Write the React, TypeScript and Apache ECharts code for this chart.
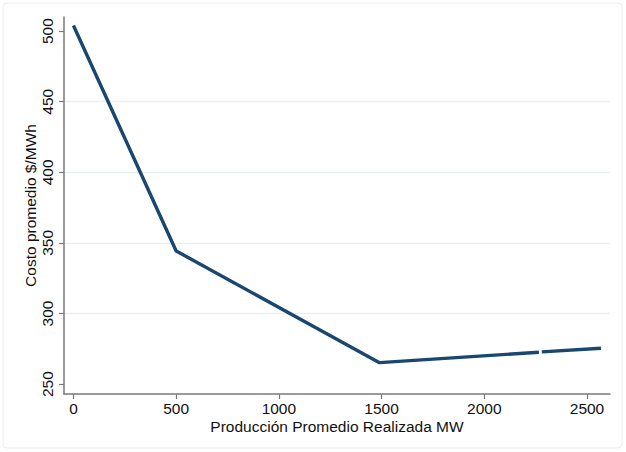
import React, { useEffect, useRef } from "react";
import * as echarts from "echarts";

const produccion: number[] = [0, 500, 1490, 2266, 2273, 2280, 2568];
const costo: (number | string)[] = [504, 344.3, 265.2, 272.6, "-", 272.8, 275.4];
const xTicks = [0, 500, 1000, 1500, 2000, 2500];
const yTicks = [250, 300, 350, 400, 450, 500];

export default function App() {
  const ref = useRef<HTMLDivElement>(null);
  useEffect(() => {
    if (!ref.current) return;
    const chart = echarts.init(ref.current, null, { renderer: "svg" });
    const font = "'Liberation Sans', Arial, Helvetica, sans-serif";
    const data = produccion.map((x, i) => [x, costo[i]]);
    chart.setOption({
      animation: false,
      backgroundColor: "#ffffff",
      textStyle: { fontFamily: font },
      graphic: [
        {
          type: "rect",
          shape: { x: 3, y: 3, width: 619, height: 445, r: 4 },
          style: { fill: "none", stroke: "#ededed", lineWidth: 1 },
          silent: true,
          z: -1,
        },
      ],
      grid: { left: 64, right: 16, top: 17, bottom: 58, containLabel: false },
      xAxis: {
        type: "value",
        min: -46,
        max: 2612,
        name: "Producción Promedio Realizada MW",
        nameLocation: "middle",
        nameGap: 24,
        nameMoveOverlap: false,
        nameTextStyle: { fontSize: 15.5, color: "#111", fontFamily: font },
        axisLine: { show: true, onZero: false, lineStyle: { color: "#7a7a7a", width: 1.5 } },
        axisTick: { show: true, length: 5, customValues: xTicks, lineStyle: { color: "#7a7a7a", width: 1.2 } },
        axisLabel: {
          customValues: xTicks,
          fontSize: 15.5,
          color: "#111",
          margin: 6,
          fontFamily: font,
          formatter: (v: number) => String(v),
        },
        splitLine: { show: false },
      },
      yAxis: {
        type: "value",
        min: 243,
        max: 510,
        name: "Costo promedio $/MWh",
        nameLocation: "middle",
        nameGap: 26,
        nameMoveOverlap: false,
        nameRotate: 90,
        nameTextStyle: { fontSize: 15.5, color: "#111", fontFamily: font },
        axisLine: { show: true, onZero: false, lineStyle: { color: "#7a7a7a", width: 1.5 } },
        axisTick: { show: true, length: 5, customValues: yTicks, lineStyle: { color: "#7a7a7a", width: 1.2 } },
        axisLabel: {
          customValues: yTicks,
          rotate: 90,
          fontSize: 15.5,
          color: "#111",
          margin: 9,
          fontFamily: font,
          formatter: (v: number) => String(v),
        },
        splitLine: { show: true, showMinLine: false, showMaxLine: false, lineStyle: { color: "#eaf0f1", width: 1.3 } },
      },
      series: [
        {
          type: "line",
          data,
          showSymbol: false,
          connectNulls: false,
          lineStyle: { color: "#1a476f", width: 3.4, cap: "butt", join: "round" },
          itemStyle: { color: "#1a476f" },
        },
      ],
    });
    return () => chart.dispose();
  }, []);
  return (
    <div
      ref={ref}
      style={{ position: "absolute", left: 0, top: 0, width: 626, height: 452 }}
    />
  );
}
